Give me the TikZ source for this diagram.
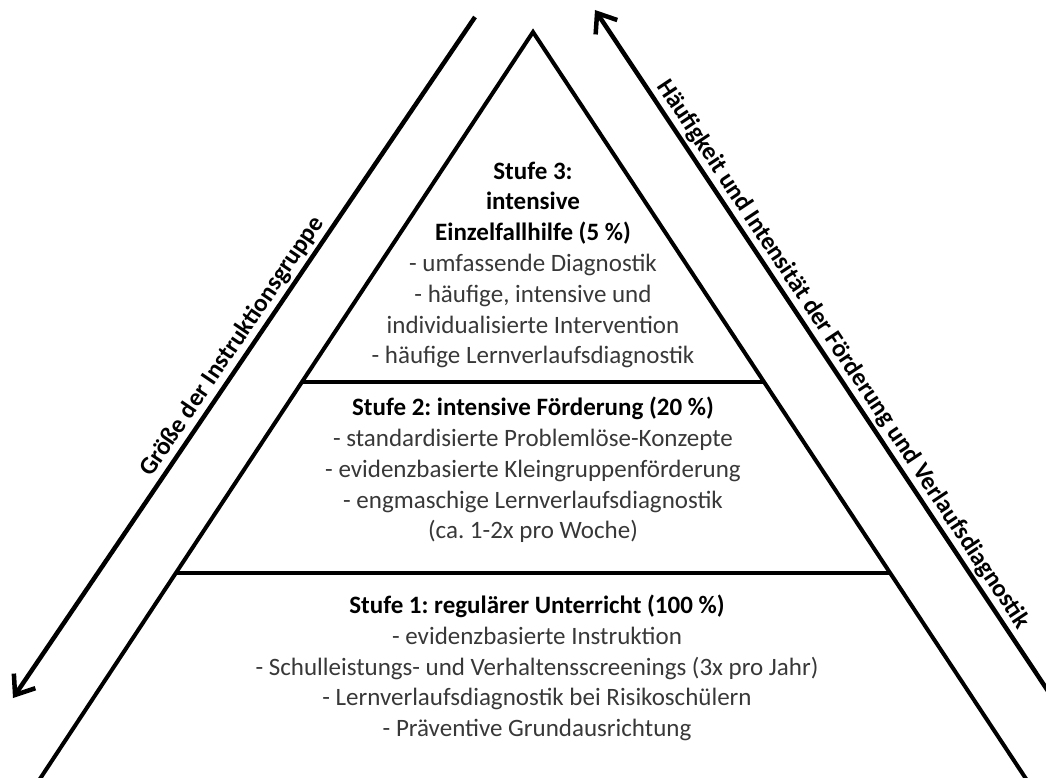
\documentclass[tikz,border=0pt]{standalone}
\usepackage{fontspec}
\setmainfont{Carlito}
\usetikzlibrary{arrows.meta,calc}
\frenchspacing
\begin{document}
\begin{tikzpicture}[x=1pt,y=-1pt,
  edge/.style={line width=4pt},
  arr/.style={line width=4.5pt,-{Straight Barb[length=17pt,width=26pt]}},
  body/.style={align=center,text=black!78,font=\fontsize{25}{30.8}\selectfont,inner sep=0pt},
  lab/.style={font=\bfseries\fontsize{25}{30}\selectfont,sloped,above,inner sep=2.5pt,text=black}]
\useasboundingbox (0,0) rectangle (1046,778);
\clip (0,0) rectangle (1046,778);
% pyramid
\coordinate (apex) at (533,32);
\coordinate (bl) at (26,800);
\coordinate (br) at (1040,800);
\draw[edge,line join=miter] (bl) -- (apex) -- (br);
\coordinate (l2) at ($(apex)!0.4557!(bl)$);
\coordinate (r2) at ($(apex)!0.4557!(br)$);
\coordinate (l1) at ($(apex)!0.7044!(bl)$);
\coordinate (r1) at ($(apex)!0.7044!(br)$);
\draw[edge] (l2) -- (r2);
\draw[edge] (l1) -- (r1);
% arrows
\coordinate (la1) at (475,17);
\coordinate (la2) at (13,698);
\coordinate (ra1) at (1052,697);
\coordinate (ra2) at (595,10);
\draw[arr] (la1) -- node[lab,pos=0.497] (gl) {Größe der Instruktionsgruppe} (la2);
\draw[arr] (ra1) -- node[lab,pos=0.486] (gr) {Häufigkeit und Intensität der Förderung und Verlaufsdiagnostik} (ra2);
% tiers
\node[body] (s3) at (533,265) {{\bfseries\color{black}Stufe 3:}\\{\bfseries\color{black}intensive}\\{\bfseries\color{black}Einzelfallhilfe (5~\%)}\\- umfassende Diagnostik\\- häufige, intensive und\\individualisierte Intervention\\- häufige Lernverlaufsdiagnostik};
\node[body] (s2) at (533,470) {{\bfseries\color{black}Stufe 2: intensive Förderung (20~\%)}\\- standardisierte Problemlöse-Konzepte\\- evidenzbasierte Kleingruppenförderung\\- engmaschige Lernverlaufsdiagnostik\\(ca. 1-2x pro Woche)};
\node[body] (s1) at (537,668) {{\bfseries\color{black}Stufe 1: regulärer Unterricht (100~\%)}\\- evidenzbasierte Instruktion\\- Schulleistungs- und Verhaltensscreenings (3x pro Jahr)\\- Lernverlaufsdiagnostik bei Risikoschülern\\- Präventive Grundausrichtung};
\end{tikzpicture}
\end{document}
